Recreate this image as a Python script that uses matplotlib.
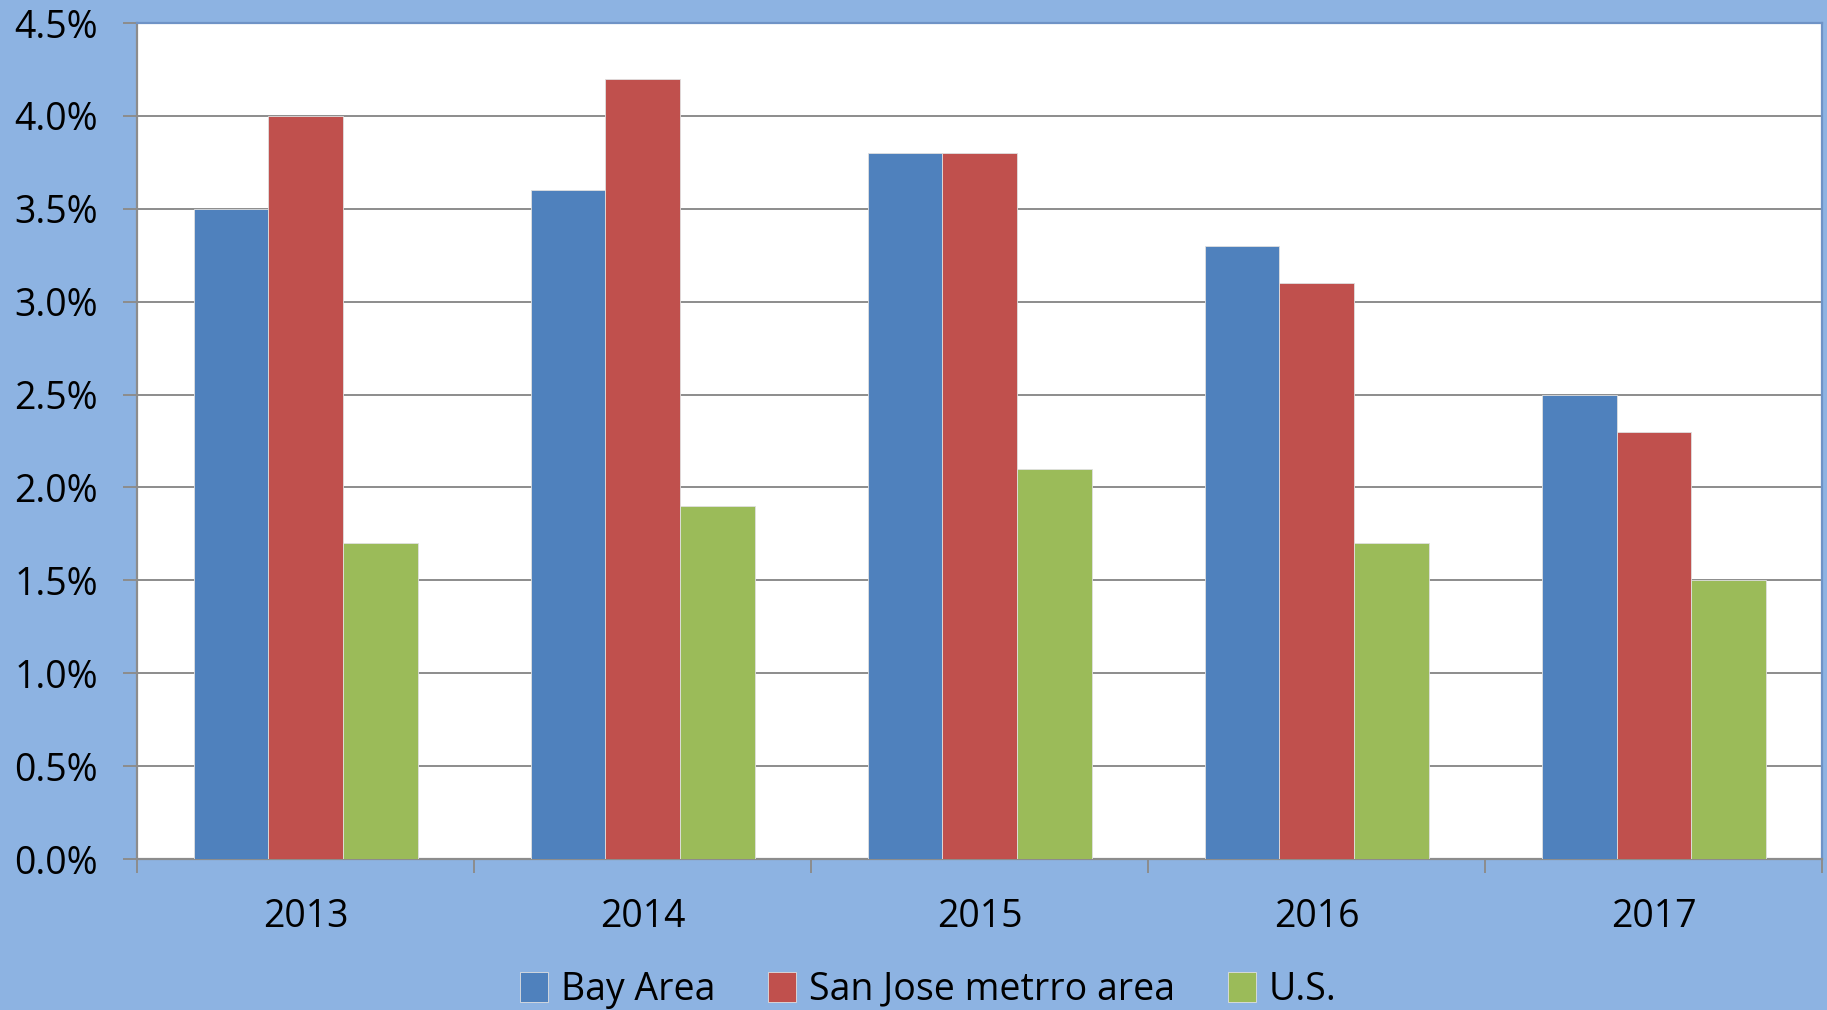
import numpy as np
import matplotlib.pyplot as plt
from matplotlib.ticker import FuncFormatter, MultipleLocator

years = ["2013", "2014", "2015", "2016", "2017"]
bay_area = [3.5, 3.6, 3.8, 3.3, 2.5]
san_jose = [4.0, 4.2, 3.8, 3.1, 2.3]
us = [1.7, 1.9, 2.1, 1.7, 1.5]

series = [
    ("Bay Area", bay_area, "#4F81BD"),
    ("San Jose metrro area", san_jose, "#C0504D"),
    ("U.S.", us, "#9BBB59"),
]

plt.rcParams["font.family"] = ["Open Sans", "DejaVu Sans"]
bg = "#8DB3E2"

fig = plt.figure(figsize=(18.27, 10.10), dpi=100, facecolor=bg)
ax = fig.add_axes([0.075, 0.1495, 0.9225, 0.8277])

x = np.arange(len(years))
w = 0.2216
for i, (name, vals, col) in enumerate(series):
    ax.bar(x + (i - 1) * w, vals, w, color=col, label=name,
           edgecolor="#e0e0e0", linewidth=0.6, zorder=3)

ax.set_xlim(-0.5, len(years) - 0.5)
ax.set_ylim(0, 4.5)
ax.yaxis.set_major_locator(MultipleLocator(0.5))
ax.yaxis.set_major_formatter(FuncFormatter(lambda v, p: f"{v:.1f}%"))
ax.grid(axis="y", color="#8c8c8c", linewidth=1.4, zorder=0)

ax.set_xticks(x)
ax.set_xticklabels(years)
ax.set_xticks(np.arange(len(years) + 1) - 0.5, minor=True)
ax.tick_params(axis="x", which="major", length=0, pad=28, labelsize=27)
ax.tick_params(axis="x", which="minor", length=10, width=1.4, color="#8c8c8c")
ax.tick_params(axis="y", length=10, width=1.4, color="#8c8c8c", pad=18, labelsize=27)

for s in ["left", "bottom"]:
    ax.spines[s].set_color("#8c8c8c")
    ax.spines[s].set_linewidth(1.6)
for s in ["top", "right"]:
    ax.spines[s].set_color("#6f93c6")
    ax.spines[s].set_linewidth(1.6)

fig.legend(loc="lower center", bbox_to_anchor=(0.508, -0.032), ncol=3,
           frameon=False, fontsize=27, handlelength=0.75, handleheight=0.85,
           handletextpad=0.35, columnspacing=1.4)

fig.savefig("out.png", dpi=100, facecolor=bg)
